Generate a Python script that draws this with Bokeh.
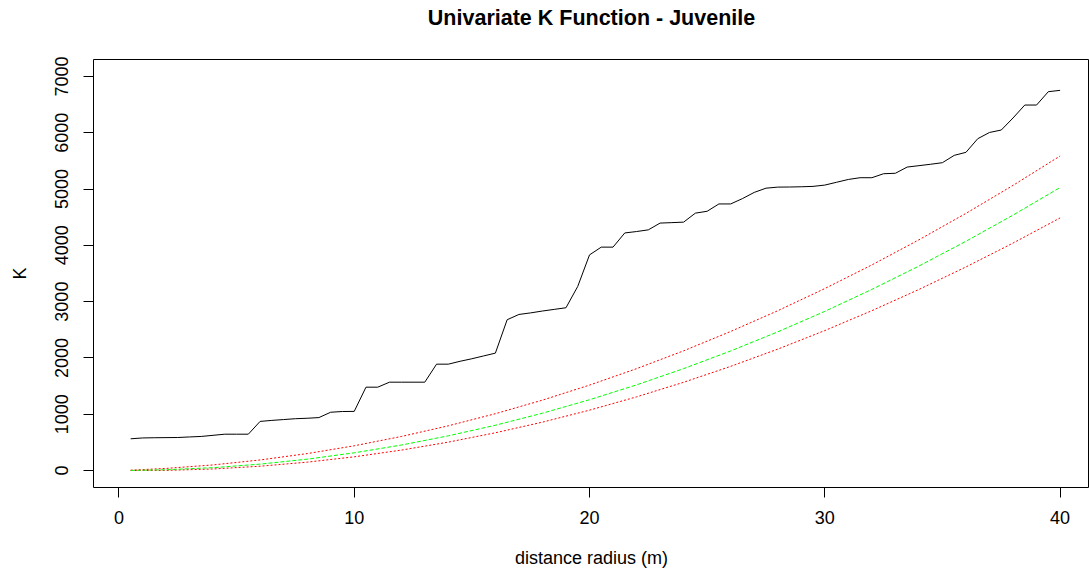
from bokeh.plotting import figure
from bokeh.models import Range1d, FixedTicker, Title
from bokeh.embed import file_html
from bokeh.resources import INLINE

r_obs = [0.5, 1.0, 1.5, 2.0, 2.5, 3.0, 3.5, 4.0, 4.5, 5.0,
         5.5, 6.0, 6.5, 7.0, 7.5, 8.0, 8.5, 9.0, 9.5, 10.0,
         10.5, 11.0, 11.5, 12.0, 12.5, 13.0, 13.5, 14.0, 14.5, 15.0,
         15.5, 16.0, 16.5, 17.0, 17.5, 18.0, 18.5, 19.0, 19.5, 20.0,
         20.5, 21.0, 21.5, 22.0, 22.5, 23.0, 23.5, 24.0, 24.5, 25.0,
         25.5, 26.0, 26.5, 27.0, 27.5, 28.0, 28.5, 29.0, 29.5, 30.0,
         30.5, 31.0, 31.5, 32.0, 32.5, 33.0, 33.5, 34.0, 34.5, 35.0,
         35.5, 36.0, 36.5, 37.0, 37.5, 38.0, 38.5, 39.0, 39.5, 40.0]
k_obs = [563, 578, 582, 584, 586, 596, 605, 625, 645, 645,
         645, 872, 890, 905, 920, 928, 940, 1035, 1048, 1050,
         1480, 1480, 1569, 1569, 1569, 1569, 1889, 1889, 1940, 1985,
         2035, 2085, 2678, 2772, 2800, 2833, 2862, 2891, 3270, 3830,
         3968, 3968, 4220, 4245, 4275, 4395, 4403, 4412, 4572, 4605,
         4735, 4735, 4830, 4940, 5015, 5034, 5036, 5040, 5047, 5070,
         5120, 5170, 5201, 5201, 5272, 5280, 5390, 5415, 5440, 5468,
         5598, 5652, 5894, 6005, 6048, 6262, 6492, 6492, 6729, 6753]

# envelope and theoretical curves
r_env = [0.5, 2, 4, 6, 8, 10, 12, 14, 16, 18, 20, 22, 24, 26, 28, 30, 32, 34, 36, 38, 40]
k_theo = [1, 13, 50, 113, 201, 314, 452, 616, 804, 1018, 1257, 1521, 1810, 2124, 2463,
          2827, 3217, 3632, 4072, 4537, 5027]
k_hi = [5, 37, 99, 187, 300, 439, 604, 794, 1009, 1250, 1517, 1809, 2126, 2470, 2838,
        3232, 3652, 4098, 4568, 5065, 5587]
k_lo = [0, 2, 27, 76, 148, 243, 362, 504, 670, 859, 1072, 1308, 1567, 1850, 2156,
        2486, 2839, 3216, 3616, 4040, 4487]

x_ticks = [0, 10, 20, 30, 40]
y_ticks = [0, 1000, 2000, 3000, 4000, 5000, 6000, 7000]
title_text = "Univariate K Function - Juvenile"

FONT = "Liberation Sans"

p = figure(width=1089, height=570, output_backend="svg", toolbar_location=None,
           x_range=Range1d(-1.08, 41.25), y_range=Range1d(-302, 7301),
           min_border_left=93, min_border_right=0, min_border_top=59, min_border_bottom=83,
           title=title_text)

p.title.align = "center"
p.title.text_font = FONT
p.title.text_font_size = "21.5px"
p.title.text_font_style = "bold"
p.title.text_color = "black"
p.title.standoff = 0

# empty spacer between the frame and the title, to lift the title up
spacer = Title(text=" ", text_font_size="1px", standoff=27, text_color="white")
p.add_layout(spacer, "above")

p.grid.visible = False
p.outline_line_color = "black"
p.outline_line_alpha = 1.0
p.outline_line_width = 1
p.background_fill_color = "white"
p.border_fill_color = "white"

for ax in (p.xaxis[0], p.yaxis[0]):
    ax.axis_line_color = None
    ax.major_tick_in = 0
    ax.major_tick_out = 10
    ax.major_tick_line_color = "black"
    ax.minor_tick_line_color = None
    ax.major_label_text_font = FONT
    ax.major_label_text_font_size = "18px"
    ax.major_label_text_color = "black"
    ax.axis_label_text_font = FONT
    ax.axis_label_text_font_size = "18px"
    ax.axis_label_text_font_style = "normal"
    ax.axis_label_text_color = "black"

p.xaxis.ticker = FixedTicker(ticks=x_ticks)
p.yaxis.ticker = FixedTicker(ticks=y_ticks)
p.xaxis.axis_label = "distance radius (m)"
p.yaxis.axis_label = "K"
p.xaxis.major_label_standoff = 13
p.xaxis.axis_label_standoff = 21
p.yaxis.major_label_standoff = 15
p.yaxis.axis_label_standoff = 23
p.yaxis.major_label_orientation = "vertical"

p.line(r_obs, k_obs, line_color="black", line_width=1)
p.line(r_env, k_hi, line_color="#FF0000", line_width=1, line_dash="2 2")
p.line(r_env, k_lo, line_color="#FF0000", line_width=1, line_dash="2 2")
p.line(r_env, k_theo, line_color="#00FF00", line_width=1, line_dash="4 2")

open("out.html", "w").write(file_html(p, INLINE))
